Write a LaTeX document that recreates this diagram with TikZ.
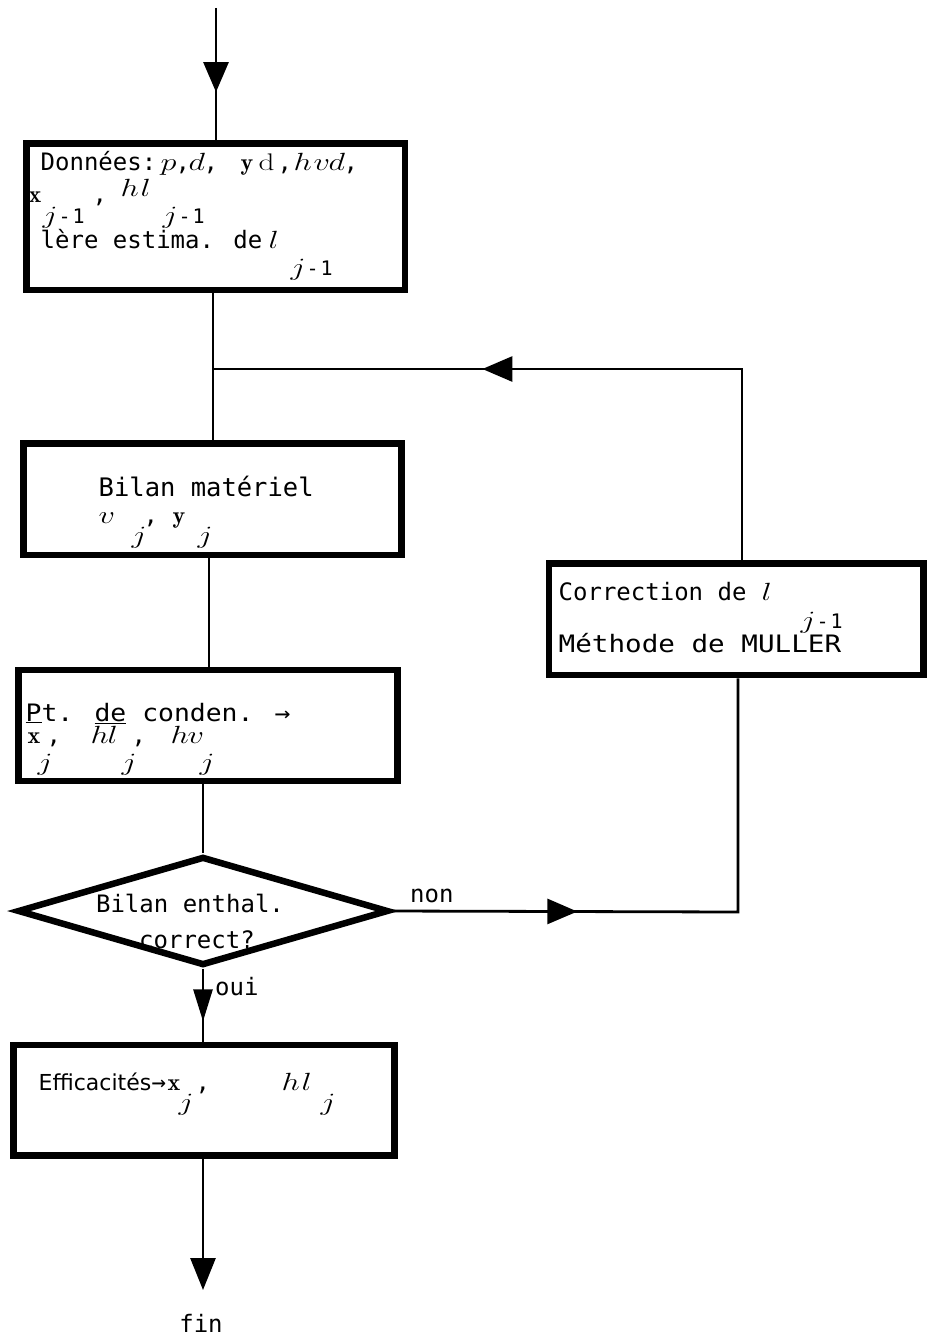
\documentclass[tikz,border=0pt]{standalone}
\usepackage{fontspec}
\usepackage{graphicx}
\usetikzlibrary{arrows.meta,decorations.markings,shapes.geometric}
\newfontfamily\plotfont{DejaVu Sans Mono}
\newfontfamily\propfont{DejaVu Sans}
% place #3 at horizontal offset #2 (pt) from the line start, lowered by #1 (pt)
\newcommand\at[3][0]{\rlap{\hspace*{#2pt}\raisebox{-#1pt}{#3}}}
\newcommand\mi[1]{\scalebox{1.3}[1]{\fontsize{24}{24}\selectfont$#1$}}
\newcommand\mb[1]{{\fontsize{24}{24}\selectfont$\mathbf{#1}$}}
\newcommand\mo{{\fontsize{20}{20}\selectfont\plotfont -\kern2pt1}}
\newcommand\txtfont{\fontsize{24}{30}\selectfont\plotfont}
\begin{document}
\begin{tikzpicture}[x=1pt,y=-1pt,
  box/.style={draw, rectangle, line width=6.5pt, inner sep=0pt},
  conn/.style={line width=2.8pt},
  arrowat/.style={postaction={decorate}, decoration={markings, mark=at position #1 with {\arrow{Triangle[length=30pt,width=25pt]}}}},
  arrowsm/.style={postaction={decorate}, decoration={markings, mark=at position #1 with {\arrow{Triangle[length=32pt,width=19pt]}}}},
  lbl/.style={anchor=base west, inner sep=0pt, font=\txtfont},
  clbl/.style={anchor=base, inner sep=0pt, font=\txtfont}]
\fill[white] (0,0) rectangle (927,1338);
\useasboundingbox (0,0) rectangle (927,1338);

% boxes
\node[box, minimum width=378.5pt, minimum height=146.5pt] (n1) at (215.75,216.75) {};
\node[box, minimum width=378pt, minimum height=111.5pt] (n2) at (212.5,499.25) {};
\node[box, minimum width=379pt, minimum height=111pt] (n3) at (208,725.5) {};
\node[draw, diamond, line width=6.5pt, minimum width=371pt, minimum height=109pt, inner sep=0pt, aspect=3.4] (dec) at (203,911) {};
\node[box, minimum width=381pt, minimum height=110.5pt] (n4) at (204,1100.25) {};
\node[box, minimum width=374.5pt, minimum height=111.5pt] (corr) at (736.25,619.25) {};

% coordinates
\coordinate (top) at (216,8);
\coordinate (j1) at (213,369);
\coordinate (c1) at (742,369);
\coordinate (v2) at (209,600);
\coordinate (c2) at (738,912);
\coordinate (end) at (203,1290);

% connectors
\draw[conn, arrowat=0.636] (top) -- (top |- n1.north);
\draw[conn] (j1 |- n1.south) -- (j1 |- n2.north);
\draw[conn, arrowat=0.626] (c1 |- corr.north) -- (c1) -- (j1);
\draw[conn] (v2 |- n2.south) -- (v2 |- n3.north);
\draw[conn] (dec.north |- n3.south) -- (dec.north);
\draw[conn, arrowat=0.32] (dec.east) -- (c2) -- (c2 |- corr.south);
\draw[conn, arrowsm=0.72] (dec.south) -- (dec.south |- n4.north);
\draw[conn, -{Triangle[length=32pt,width=25pt]}] (end |- n4.south) -- (end);

% box 1
\node[lbl] (t1a) at (0,170) {\at{40}{Données:}\at{160}{\mi{p}}\at{175}{,}\at{188}{\mi{d}}\at{203}{,}\at{240}{\mb{y}}\at{258}{\mi{\mathrm{d}}}\at{277}{,}\at{293}{\mi{h}}\at{313}{\mi{v}}\at{328}{\mi{d}}\at{343}{,}};
\node[lbl] (t1b) at (0,202) {\at{28}{\mb{x}}\at[21]{42}{\mi{j}}\at[21]{58}{\mo}\at{92}{,}};
\node[lbl] (t1c) at (0,196) {\at{120}{\mi{h}}\at{140}{\mi{l}}\at[27]{162}{\mi{j}}\at[27]{178}{\mo}};
\node[lbl] (t1d) at (0,248) {\at{40}{lère estima. de}\at{268}{\mi{l}}\at[27]{290}{\mi{j}}\at[27]{306}{\mo}};

% box 2
\node[lbl] (t2a) at (0,496) {\at{98}{\fontsize{25.5}{30}\selectfont Bilan matériel}};
\node[lbl] (t2b) at (0,523) {\at{98}{\mi{v}}\at[20]{131}{\mi{j}}\at{143}{,}\at{172}{\mb{y}}\at[20]{197}{\mi{j}}};

% box 3
\node[lbl] (t3a) at (0,721) {\at{25}{\scalebox{1.1}[1]{\underline{P}t. \underline{de} conden. →}}};
\node[lbl] (t3b) at (0,743) {\at{27}{\mb{x}}\at[27]{37}{\mi{j}}\at{46}{,}\at{90}{\mi{h}}\at{107}{\mi{l}}\at[27]{121}{\mi{j}}\at{131}{,}\at{170}{\mi{h}}\at{187}{\mi{v}}\at[27]{199}{\mi{j}}};

% decision
\node[clbl] (td1) at (190,912) {Bilan enthal.};
\node[clbl] (td2) at (197,948) {correct?};
\node[lbl] (non) at (410,902) {non};
\node[lbl] (oui) at (215,995) {oui};

% box 4
\node[lbl] (t4) at (0,1090) {\at{38}{{\propfont\fontsize{22}{28}\selectfont Efficacités}}\at{151}{→}\at{167}{\mb{x}}\at[20]{178}{\mi{j}}\at{195}{,}\at{281}{\mi{h}}\at{301}{\mi{l}}\at[20]{320}{\mi{j}}};

% correction box
\node[lbl] (tc1) at (0,600) {\at{558}{Correction de}\at{761}{\mi{l}}\at[28]{800}{\mi{j}}\at[28]{816}{\mo}};
\node[lbl] (tc2) at (0,652) {\at{558}{\scalebox{1.15}[1]{Méthode de MULLER}}};

\node[clbl] (fin) at (201,1332) {fin};
\end{tikzpicture}
\end{document}
